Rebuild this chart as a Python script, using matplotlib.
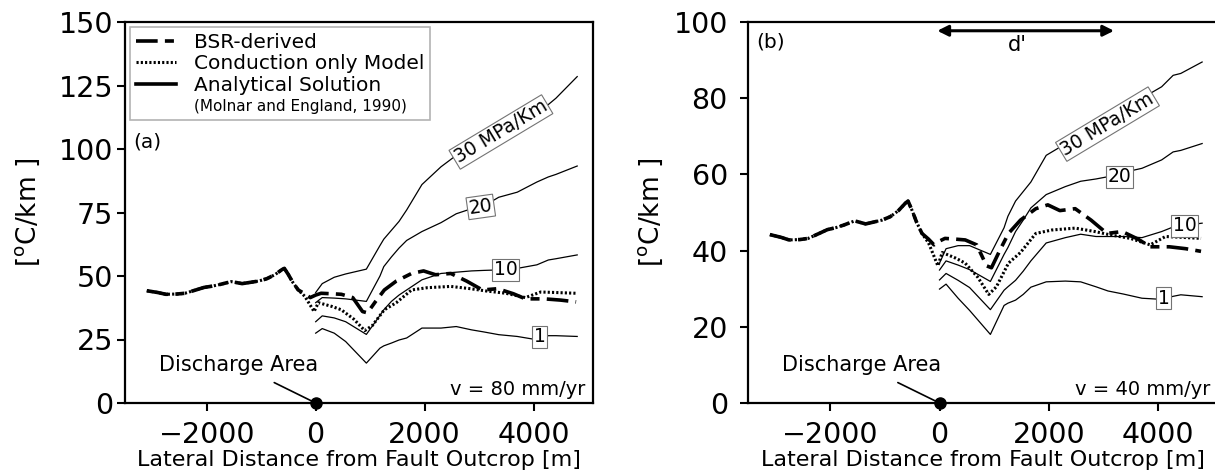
import numpy as np
import matplotlib
matplotlib.use('Agg')
import matplotlib.pyplot as plt
from matplotlib.lines import Line2D

plt.rcParams['font.family'] = ['DejaVu Sans']

# BSR-derived and conduction-only gradients (same in both panels)
bsr_x = [-3100, -2900, -2750, -2550, -2400, -2200, -2050, -1900, -1750, -1550,
         -1350, -1200, -1050, -900, -750, -620, -575, -500, -420, -320,
         -200, -100, 0, 100, 300, 470, 680, 860, 950, 1100,
         1260, 1480, 1760, 1980, 2200, 2480, 2770, 3060, 3340, 3630,
         3850, 4200, 4500, 4780]
bsr_y = [44.2, 43.5, 42.8, 42.9, 43.2, 44.5, 45.5, 46.0, 46.7, 47.8,
         47.0, 47.5, 48.0, 48.9, 50.5, 52.5, 53.0, 50.5, 47.5, 44.5,
         43.0, 41.5, 42.5, 43.2, 43.0, 42.8, 41.5, 36.0, 35.5, 40.0,
         44.5, 48.0, 51.0, 52.0, 50.5, 51.0, 48.0, 44.5, 45.0, 43.0,
         41.0, 41.0, 40.5, 39.8]

cond_x = bsr_x[:20] + [-200, -100, -30, 50, 300, 470, 700, 900, 1040, 1260,
                       1480, 1760, 2050, 2480, 2840, 3130, 3490, 3850, 4130, 4400,
                       4780]
cond_y = bsr_y[:20] + [42.0, 38.5, 36.0, 39.5, 38.0, 36.7, 33.0, 28.5, 30.5, 36.7,
                       39.5, 44.5, 45.4, 45.9, 45.0, 44.1, 43.2, 41.5, 43.7, 43.5,
                       43.2]

# analytical solutions (Molnar and England, 1990)
ana_x = [0, 120, 340, 550, 930, 1180, 1250, 1390, 1530, 1670, 1950, 2300, 2580,
         2860, 3080, 3360, 3700, 4060, 4270, 4410, 4800]
stress = ['30 MPa/Km', '20', '10', '1']

# v = 80 mm/yr
a30 = [43.5, 47.0, 49.5, 50.8, 52.7, 62.0, 64.5, 68.0, 71.5, 76.0, 86.0, 93.0, 97.5,
       101.0, 104.0, 107.0, 111.0, 115.0, 117.5, 120.0, 128.5]
a20 = [39.5, 41.5, 41.3, 41.0, 40.0, 50.0, 53.7, 57.5, 61.0, 64.0, 67.5, 71.0, 74.5,
       76.5, 77.5, 81.0, 83.0, 87.0, 89.0, 90.0, 93.3]
a10 = [32.0, 34.3, 33.5, 32.0, 27.0, 34.5, 36.7, 40.0, 42.5, 44.5, 48.5, 51.0, 51.5,
       52.0, 52.2, 52.4, 53.0, 54.4, 56.3, 56.8, 58.3]
a1 = [27.5, 29.3, 27.5, 24.2, 15.7, 21.6, 22.5, 23.6, 24.8, 25.6, 29.5, 29.5, 30.1,
      28.8, 28.0, 26.9, 26.2, 24.9, 26.5, 26.5, 26.2]

# v = 40 mm/yr
b30 = [36.7, 40.5, 41.3, 41.3, 39.0, 46.0, 49.0, 53.0, 55.5, 58.0, 65.0, 68.0, 70.5,
       73.0, 75.0, 77.0, 80.0, 83.0, 86.0, 86.5, 89.5]
b20 = [34.9, 37.3, 36.2, 35.0, 31.9, 39.0, 40.8, 45.0, 48.0, 51.2, 54.7, 56.8, 58.2,
       58.8, 59.4, 60.5, 61.6, 63.8, 65.9, 66.3, 68.1]
b10 = [32.3, 34.0, 32.2, 30.3, 24.5, 29.6, 30.5, 32.2, 34.6, 37.3, 42.0, 43.4, 44.3,
       43.7, 43.7, 43.7, 43.4, 45.0, 46.2, 46.5, 47.2]
b1 = [29.9, 31.2, 27.5, 24.3, 18.0, 25.6, 26.2, 27.0, 28.5, 30.4, 31.8, 32.0, 31.8,
      30.5, 29.4, 28.6, 27.5, 27.2, 28.0, 28.4, 27.9]

fig = plt.figure(figsize=(12.15, 4.72), dpi=100)
ax_a = fig.add_axes([125 / 1215, 69 / 472, 468 / 1215, 381 / 472])
ax_b = fig.add_axes([748 / 1215, 69 / 472, 470 / 1215, 381 / 472])

label_box = dict(boxstyle='square,pad=0.08', fc='white', ec='0.45', lw=0.8)
bsr_style = dict(color='black', lw=2.6, dashes=(6, 2, 2.5, 2))
cond_style = dict(color='black', lw=2.2, linestyle=(0, (0.7, 0.7)))


def panel(ax, curves, ymax, yticks, ypad, label_pos, label_rot, tag, tag_y, speed):
    for ys in curves:
        ax.plot(ana_x, ys, color='black', lw=0.9)
    ax.plot(cond_x, cond_y, **cond_style)
    ax.plot(bsr_x, bsr_y, **bsr_style)
    for name, (lx, ly), rot in zip(stress, label_pos, label_rot):
        ax.text(lx, ly, name, fontsize=13.5, rotation=rot, ha='center', va='center',
                bbox=label_box, zorder=5)
    ax.set_xlim(-3500, 5090)
    ax.set_ylim(0, ymax)
    ax.set_xticks([-2000, 0, 2000, 4000])
    ax.set_yticks(yticks)
    ax.tick_params(labelsize=20.5, length=6, width=1.5)
    ax.tick_params(axis='x', pad=7)
    ax.tick_params(axis='y', pad=ypad)
    for sp in ax.spines.values():
        sp.set_linewidth(1.6)
    ax.set_xlabel('Lateral Distance from Fault Outcrop [m]', fontsize=16, labelpad=1)
    ax.set_ylabel('[$^{\\rm o}$C/km ]', fontsize=19, va='center')
    ax.yaxis.set_label_coords(-0.207, 0.5)
    ax.text(0.018, tag_y, tag, transform=ax.transAxes, fontsize=14.5, va='center')
    ax.text(0.983, 0.036, speed, transform=ax.transAxes, fontsize=14, ha='right',
            va='center')
    ax.plot([0], [0], 'o', color='black', ms=8, clip_on=False, zorder=6)
    ax.annotate('Discharge Area', xy=(0, 0), xytext=(-1420, 0.1 * ymax),
                fontsize=15, ha='center', va='center',
                arrowprops=dict(arrowstyle='-', color='black', lw=1.2,
                                shrinkA=8, shrinkB=3))


panel(ax_a, [a30, a20, a10, a1], 150, [0, 25, 50, 75, 100, 125, 150], 2.5,
      [(3400, 106.7), (3030, 77.2), (3490, 52.4), (4110, 26.0)],
      [31, 8, 0, 0], '(a)', 0.685, 'v = 80 mm/yr')
panel(ax_b, [b30, b20, b10, b1], 100, [0, 20, 40, 60, 80, 100], 8.5,
      [(3070, 73.2), (3290, 59.4), (4480, 46.5), (4100, 27.5)],
      [31, 0, 0, 0], '(b)', 0.948, 'v = 40 mm/yr')

# d' extent arrow in panel (b)
ax_b.annotate('', xy=(-40, 97.7), xytext=(3190, 97.7),
              arrowprops=dict(arrowstyle='<|-|>', color='black', lw=2.2,
                              mutation_scale=16, shrinkA=0, shrinkB=0))
ax_b.text(1420, 94.0, "d'", fontsize=15, ha='center', va='center')

handles = [Line2D([], [], **bsr_style),
           Line2D([], [], **cond_style),
           Line2D([], [], color='black', lw=2.6),
           Line2D([], [], color='none')]
labels = ['BSR-derived', 'Conduction only Model', 'Analytical Solution',
          '(Molnar and England, 1990)']
leg = ax_a.legend(handles, labels, loc='upper left', bbox_to_anchor=(0.011, 0.987),
                  fontsize=14.5, frameon=True, fancybox=False, edgecolor='0.7',
                  framealpha=1, handlelength=2.0, handletextpad=0.85,
                  labelspacing=0.12, borderpad=0.3, borderaxespad=0)
leg.get_frame().set_linewidth(1.2)
leg.get_texts()[3].set_fontsize(11)

fig.savefig('out.png', dpi=100)
